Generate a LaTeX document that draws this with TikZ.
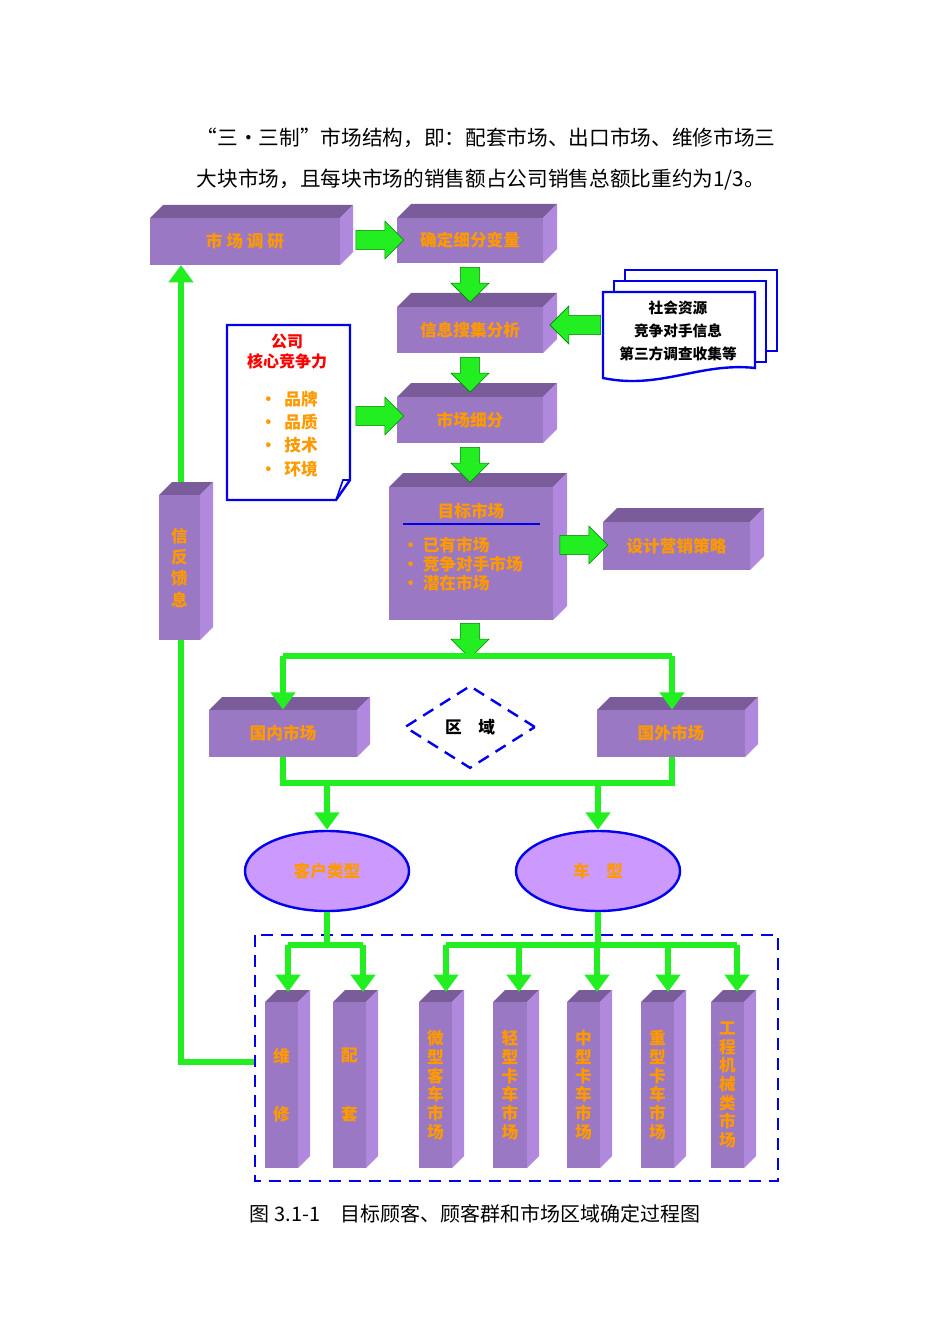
\documentclass[tikz,border=0pt]{standalone}
\usepackage{fontspec}
\newfontfamily\cjk{Noto Sans CJK SC}
\usetikzlibrary{shapes.geometric,shapes.arrows,arrows.meta,calc}
\definecolor{frontc}{HTML}{9B78C4}
\definecolor{topc}{HTML}{7A5C9A}
\definecolor{sidec}{HTML}{B088DD}
\definecolor{orng}{HTML}{FF9900}
\definecolor{gr}{HTML}{22EE22}
\definecolor{bl}{HTML}{0000EE}
\definecolor{ellc}{HTML}{CC99FF}
\tikzset{x=0.75pt,y=-0.75pt,
 front/.style={fill=frontc,draw=none,inner sep=0pt,text=orng,font=\cjk\bfseries\fontsize{12.5}{14}\selectfont},
 garrow/.style={single arrow,fill=gr,draw=green!50!black,line width=0.4pt,inner sep=7pt,minimum width=28pt,single arrow head extend=7pt,anchor=center},
 gline/.style={draw=gr,line width=4.5pt},
 garr/.style={gline,-{Triangle[width=18pt,length=13pt]}},
 ell/.style={ellipse,fill=ellc,draw=bl,line width=1.8pt,minimum width=123pt,minimum height=60pt,text=orng,font=\cjk\bfseries\fontsize{12.5}{14}\selectfont}}
\newcommand\cub[7]{%
 \fill[topc] (#2,#3) -- ++(#6,-#6) -- (#4+#6,#3-#6) -- (#4,#3) -- cycle;
 \fill[sidec] (#4,#3) -- (#4+#6,#3-#6) -- (#4+#6,#5-#6) -- (#4,#5) -- cycle;
 \node[front,minimum width={(#4-#2)*0.75pt},minimum height={(#5-#3)*0.75pt},align=center] (#1) at ({(#2+#4)/2},{(#3+#5)/2}) {#7};}
\begin{document}
\begin{tikzpicture}
\useasboundingbox (0,0) rectangle (950,1344);
% header
\node[anchor=west,font=\cjk\fontsize{15.5}{18}\selectfont] (h1) at (192,138) {“三·三制”市场结构，即：配套市场、出口市场、维修市场三};
\node[anchor=west,font=\cjk\fontsize{15.5}{18}\selectfont] (h2) at (192,180) {大块市场，且每块市场的销售额占公司销售总额比重约为1/3。};
% feedback line
\draw[garr] (255,1062) -- (181,1062) -- (181,265);
% boxes
\cub{dy}{150}{218}{340}{265}{13}{市\ 场\ 调\ 研}
\cub{bl1}{397}{218}{543}{263}{14}{确定细分变量}
\cub{xx}{397}{307}{543}{353}{14}{信息搜集分析}
\cub{xf}{397}{397}{543}{443}{14}{市场细分}
\cub{mb}{389}{487}{553}{620}{14}{}
\cub{sj}{603}{522}{750}{570}{14}{设计营销策略}
\cub{fk}{159}{495}{200}{640}{13}{信\\[2pt]反\\[2pt]馈\\[2pt]息}
\cub{gn}{209}{710}{357}{757}{13}{国内市场}
\cub{gw}{597}{710}{745}{757}{13}{国外市场}
\node[front,anchor=center] (mbt) at (471,511) {目标市场};
\draw[bl,line width=2pt] (403,524) -- (540,524);
\node[front,anchor=north west,align=left] (mbl) at (402,537) {\textbullet~已有市场\\ \textbullet~竞争对手市场\\ \textbullet~潜在市场};
% block arrows
\node[garrow,minimum height=36pt] (a1) at (375,240) {};
\node[garrow,minimum height=26pt,rotate=-90] (a2) at (470,280) {};
\node[garrow,minimum height=26pt,rotate=-90] (a3) at (470,370) {};
\node[garrow,minimum height=26pt,rotate=-90] (a4) at (470,460) {};
\node[garrow,minimum height=36pt] (a5) at (375,416) {};
\node[garrow,minimum height=38pt,rotate=180] (a6) at (580,325) {};
\node[garrow,minimum height=36pt] (a7) at (579,545) {};
\node[garrow,minimum height=26pt,rotate=-90] (a8) at (470,636) {};
% document
\draw[bl,line width=1.8pt,fill=white] (227,325) -- (350,325) -- (350,480) -- (336,500) -- (227,500) -- cycle;
\draw[bl,line width=1.2pt] (350,480) -- (343,480) -- (336,500);
\node[text=red,font=\cjk\bfseries\fontsize{12}{15}\selectfont,align=center] (gs) at (287,352) {公司\\核心竞争力};
\node[text=orng,font=\cjk\bfseries\fontsize{12.5}{17.5}\selectfont,align=left] (gl) at (289,434) {\textbullet~~品牌\\ \textbullet~~品质\\ \textbullet~~技术\\ \textbullet~~环境};
% multidoc
\foreach \d in {22,11}{\draw[bl,line width=1.8pt,fill=white] (603+\d,292-\d) rectangle (755+\d,373-\d);}
\draw[bl,line width=1.8pt,fill=white] (603,292) -- (755,292) -- (755,368) .. controls (700,362) and (660,390) .. (603,378) -- cycle;
\node[font=\cjk\bfseries\fontsize{11}{17}\selectfont,align=center] (sh) at (678,331) {社会资源\\竞争对手信息\\第三方调查收集等};
% region
\node[diamond,draw=bl,dashed,line width=1.8pt,dash pattern=on 9pt off 6pt,minimum width=98pt,minimum height=62pt,inner sep=0pt,font=\cjk\bfseries\fontsize{12.5}{14}\selectfont] (qy) at (470,727) {区\quad 域};
% green distribution lines
\draw[gline] (a8.tip) -- (470,656);
\draw[gline] (283,656) -- (672,656);
\draw[garr] (283,656) -- (gn.north -| 283,0);
\draw[garr] (672,656) -- (gw.north -| 672,0);
\draw[gline] (283,757) -- (283,783) -- (672,783) -- (672,757);
\node[ell] (kh) at (327,871) {客户类型};
\node[ell] (cx) at (598,871) {车\quad 型};
\draw[garr] (327,783) -- (kh.north);
\draw[garr] (598,783) -- (cx.north);
% dashed rect
\draw[bl,line width=2pt,dash pattern=on 9pt off 6pt] (255,935) rectangle (778,1181);
% pillars
\cub{p1}{265}{1002}{298}{1168}{12}{维\\[30pt]修}
\cub{p2}{333}{1002}{366}{1168}{12}{配\\[30pt]套}
\cub{p3}{419}{1002}{452}{1168}{12}{微\\型\\客\\车\\市\\场}
\cub{p4}{493}{1002}{527}{1168}{12}{轻\\型\\卡\\车\\市\\场}
\cub{p5}{567}{1002}{600}{1168}{12}{中\\型\\卡\\车\\市\\场}
\cub{p6}{641}{1002}{674}{1168}{12}{重\\型\\卡\\车\\市\\场}
\cub{p7}{711}{1002}{744}{1168}{12}{工\\程\\机\\械\\类\\市\\场}
\draw[gline] (kh.south) -- (327,945);
\draw[gline] (288,945) -- (363,945);
\draw[garr] (288,945) -- (288,992);
\draw[garr] (363,945) -- (363,992);
\draw[gline] (cx.south) -- (598,945);
\draw[gline] (446,945) -- (737,945);
\foreach \x in {446,519,597,668,737}{\draw[garr] (\x,945) -- (\x,992);}
% caption
\node[font=\cjk\fontsize{15}{18}\selectfont] (cap) at (475,1214) {图 3.1-1\quad 目标顾客、顾客群和市场区域确定过程图};
\end{tikzpicture}
\end{document}
